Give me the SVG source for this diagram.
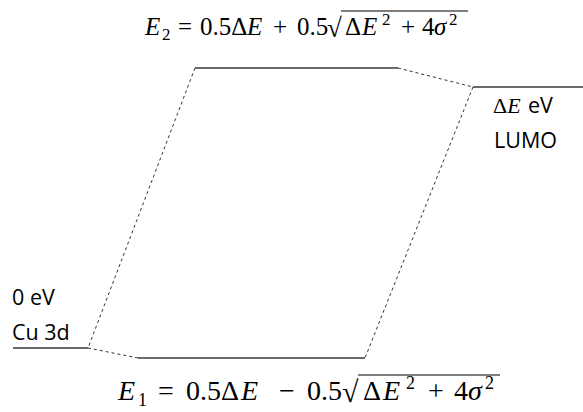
<svg xmlns="http://www.w3.org/2000/svg" width="583" height="412" viewBox="0 0 583 412">
<style>
.lvl{stroke:#3a3a3a;stroke-width:1.4;fill:none}
.dash{stroke:#333;stroke-width:1;stroke-dasharray:3,3;fill:none}
.lab{font-family:"Open Sans","Noto Sans",sans-serif;font-size:21.5px;fill:#000}
.m{font-family:"Liberation Serif","DejaVu Serif",serif;fill:#000}
.i{font-style:italic}
.bar{stroke:#000;stroke-width:1.2}
</style>
<rect width="583" height="412" fill="#fff"/>
<g id="connectors">
<line class="dash" x1="195" y1="68" x2="88" y2="348"/>
<line class="dash" x1="398" y1="68" x2="473" y2="87"/>
<line class="dash" x1="473" y1="87" x2="365" y2="358"/>
<line class="dash" x1="88" y1="348" x2="138" y2="358"/>
</g>
<g id="E2">
<line class="lvl" x1="195" y1="68" x2="398" y2="68"/>
<g class="m" font-size="25">
<text x="145" y="35" class="i">E</text>
<text x="162" y="40" font-size="17">2</text>
<text x="178" y="35">=</text>
<text x="200" y="35">0.5Δ</text>
<text x="247" y="35" class="i">E</text>
<text x="273" y="35">+</text>
<text x="297" y="35">0.5</text>
<text x="327" y="37" font-size="27">√</text>
<line class="bar" x1="341" y1="11" x2="468" y2="11"/>
<text x="345" y="35">Δ</text>
<text x="362" y="35" class="i">E</text>
<text x="382" y="25" font-size="17">2</text>
<text x="401" y="35">+</text>
<text x="422" y="35">4</text>
<text x="434" y="35" class="i">σ</text>
<text x="449" y="25" font-size="17">2</text>
</g>
</g>
<g id="LUMO">
<line class="lvl" x1="473" y1="87" x2="583" y2="87"/>
<text class="m" x="493" y="113" font-size="22">Δ<tspan class="i">E</tspan></text>
<text class="lab" x="528" y="113">eV</text>
<text class="lab" x="494" y="148">LUMO</text>
</g>
<g id="Cu3d">
<line class="lvl" x1="13" y1="348" x2="88" y2="348"/>
<text class="lab" x="12" y="305">0 eV</text>
<text class="lab" x="12" y="340">Cu 3d</text>
</g>
<g id="E1">
<line class="lvl" x1="138" y1="358" x2="365" y2="358"/>
<g class="m" font-size="28">
<text x="118" y="400" class="i">E</text>
<text x="138" y="406" font-size="18">1</text>
<text x="158" y="400">=</text>
<text x="186" y="400">0.5Δ</text>
<text x="241" y="400" class="i">E</text>
<text x="279" y="400">−</text>
<text x="307" y="400">0.5</text>
<text x="342" y="402" font-size="30">√</text>
<line class="bar" x1="358" y1="375" x2="500" y2="375"/>
<text x="363" y="400">Δ</text>
<text x="383" y="400" class="i">E</text>
<text x="406" y="389" font-size="18">2</text>
<text x="428" y="400">+</text>
<text x="454" y="400">4</text>
<text x="468" y="400" class="i">σ</text>
<text x="485" y="389" font-size="18">2</text>
</g>
</g>
</svg>
